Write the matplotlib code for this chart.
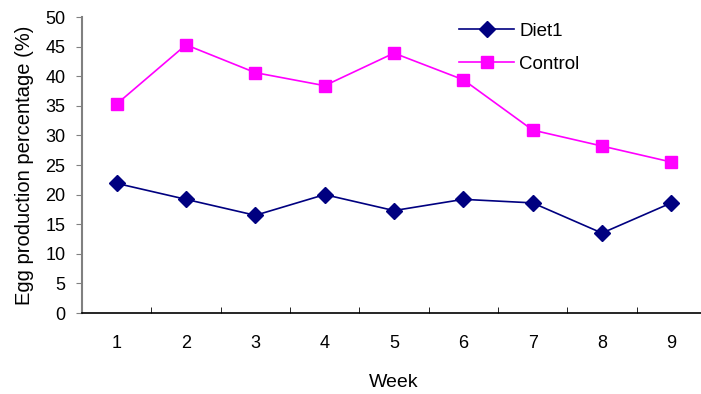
import numpy as np
import matplotlib.pyplot as plt

plt.rcParams['font.family'] = ['Liberation Sans', 'DejaVu Sans']

weeks = [1, 2, 3, 4, 5, 6, 7, 8, 9]
diet1 = [21.9, 19.2, 16.5, 20.0, 17.3, 19.2, 18.6, 13.5, 18.6]
control = [35.3, 45.3, 40.6, 38.4, 43.9, 39.4, 30.9, 28.2, 25.5]

fig = plt.figure(figsize=(7.01, 3.94), dpi=100)
ax = fig.add_axes([82 / 701, 1 - 313 / 394, 624 / 701, 296 / 394])

ax.plot(weeks, diet1, color='#000080', marker='D', markersize=8, linewidth=1.2, label='Diet1')
ax.plot(weeks, control, color='#FF00FF', marker='s', markersize=9, linewidth=1.2, label='Control')

ax.set_xlim(0.5, 9.5)
ax.set_ylim(0, 50)
ax.set_yticks(np.arange(0, 51, 5))
ax.set_xticks(weeks)
ax.set_xticks(np.arange(1.5, 9.5, 1), minor=True)
ax.tick_params(axis='x', which='major', length=0, pad=16, labelsize=13)
ax.tick_params(axis='x', which='minor', direction='in', length=4, color='black')
ax.tick_params(axis='y', direction='out', length=4, color='#808080', labelsize=13, pad=8)

for s in ['top', 'right']:
    ax.spines[s].set_visible(False)
ax.spines['left'].set_color('#808080')
ax.spines['left'].set_linewidth(1.5)
ax.spines['bottom'].set_color('black')
ax.spines['bottom'].set_linewidth(1.2)

ax.set_xlabel('Week', fontsize=14, labelpad=16)
ax.set_ylabel('Egg production percentage (%)', fontsize=14.5, labelpad=8)

ax.legend(loc='upper left', bbox_to_anchor=(450 / 701, 1 - 13 / 394), bbox_transform=fig.transFigure,
          frameon=False, borderpad=0, handlelength=2.9, handletextpad=0.3, labelspacing=0.85, fontsize=13.5)

fig.savefig('out.png', dpi=100)
